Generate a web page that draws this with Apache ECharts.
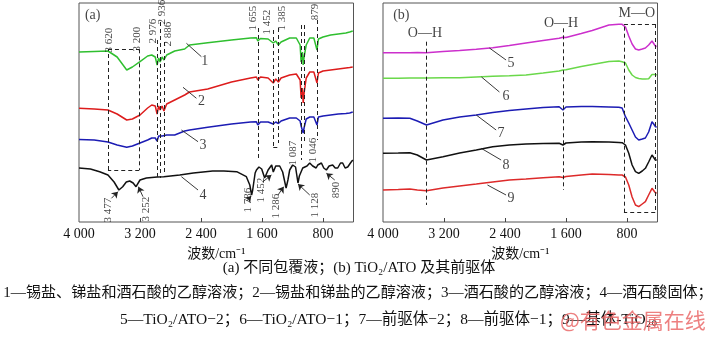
<!DOCTYPE html>
<html><head><meta charset="utf-8">
<script src="https://cdn.jsdelivr.net/npm/echarts@6/dist/echarts.min.js"></script>
<style>html,body{margin:0;padding:0;background:#fff}#c{width:716px;height:338px}</style>
</head><body><div id="c"></div>
<script>
// ---- data: panel (a) ----
const wnA = [4000,3800,3620,3500,3374,3300,3200,3100,3046,3000,2976,2955,2936,2910,2886,2850,2745,2614,2550,2312,2000,1750,1673,1655,1620,1520,1452,1420,1385,1350,1237,1150,1100,1087,1070,1060,1046,1020,974,920,879,860,800,700,600,500,450,410];
const curve1 = [170,170.5,171,165,152,155,160.3,166,167,165,157,164,160,165,162,167,171,173,177,179.3,182,184,184.3,181,183.5,183,179,181,177,180,184,184,177,160,170,157,166,177,184,184,172,183,185,187,188,189,190,191];
const curve2 = [113.7,113,112,108,102,103,107,114,117,116,108,116,112,116,111,118,122,127,130,133,140,144,145,142,145,144,139,143,140,144,147,148,142,124,134,119,130,144,150,150,139,149,151,152,153,154,154.5,155];
const curve3 = [82.5,82,80,77,74.7,76,79,82,84,84,81,86,84,86,85,87,87,91,92,94.7,98,100,100.3,97,100,100,98,100,98.5,101,104,104,101,96,98,89,95,103,105,105,97,105,106,107,108,108.5,109,110];
const wn4 = [4000,3850,3729,3620,3540,3477,3427,3380,3335,3290,3252,3200,3116,2976,2889,2679,2500,2247,2100,1932,1805,1760,1736,1722,1690,1673,1640,1604,1565,1520,1473,1452,1420,1408,1368,1329,1284,1260,1237,1198,1160,1128,1110,1087,1066,1046,1010,974,935,890,869,821,790,756,720,673,640,607,570,542,510,476,440,410];
const curve4 = [54,53,50.3,47,40,32,35.3,40,41,39,35.3,42,44,45,45.3,47,49,51,51,50.3,45.3,37,27,32,49,52,55,53,44,52,57,50,56,54,56,50,34,42,52,57,55,39,46,45,54,54,56,59,56,54,57,59,54,52,56,57,54,54,59,59,54,55,59,62];
// ---- data: panel (b) ----
const wnB = [4000,3800,3648,3550,3430,3213,2995,2777,2561,2343,2125,1900,1690,1640,1600,1400,1256,1037,907,864,820,777,733,689,646,600,559,516,472,450,428,410];
const curve5 = [169.3,169.3,169.3,169.5,169.3,170.5,171.5,172.8,174.3,176.5,179,181.5,183.7,184.8,184.5,188.5,191.5,197,197.7,197.7,195,186,178,173,172,173,174,177,181,179.5,176,175.5];
const curve6 = [143.7,143.8,144,144,144,144.2,144.3,145,145.7,146.3,147,149,151,152,152.2,155.5,157.5,160.5,161,160.3,159,152,147,144.5,143.5,143,143,143.2,147.5,149,147.5,147];
const curve7 = [103.7,104,103.7,101,97,102,105,107,109.5,111.5,113,114.5,115.3,112,115,115.5,115.5,115,114.7,114,105.3,99,92,85,82,83,84,90,100.3,98,95.3,95];
const curve8 = [68.7,69,69.3,67,62,65.3,69,72,75.3,77,78,78.5,78.7,77,79,80,80.3,80,79.5,79.3,77,68.7,57,50.3,48.7,51,53.7,60,67,65,62,62];
const curve9 = [32,32.5,33,32,31.3,34,36,38,40,42,43,44.2,45.3,44.5,45.5,47,48,47.5,47,47,45,37,25,17,15.3,18,20.3,27,33.7,32,29.3,29];
const tickValues = [800,1600,2400,3200,4000];

// ---- annotations (data units) ----
const dashA = [[[2976,182],[2976,44]],[[2936,200],[2936,44]],[[2886,180],[2886,50]],[[1655,194],[1655,62]],[[1452,192],[1452,75]],[[1452,75],[1385,75]],[[1385,194],[1385,79]],[[1087,197],[1087,62]],[[1046,197],[1046,79]],[[879,202],[879,82]],
  [[3620,172.7],[3210,172.7]],[[3210,172.7],[3210,52]],[[3210,52],[3620,52]],[[3620,52],[3620,172.7]]];
const dashB = [[[3430,180.3],[3430,17]],[[1640,193.7],[1640,32]],[[840,198],[430,198]],[[430,198],[430,9.3]],[[430,9.3],[840,9.3]],[[840,9.3],[840,198]]];
const leadA = [[[2591,178.7],[2395,165.3]],[[2636,134.7],[2460,123.7]],[[2657,92],[2439,80.3]],[[2657,45.3],[2439,32]]];
const leadB = [[[2604,174],[2386,162]],[[2708,145],[2473,130]],[[2777,107],[2516,92]],[[2712,73.7],[2451,62]],[[2630,37],[2386,27]]];
const arrowA = [[[3575,23.7],[3489,30.3]],[[3161,25.3],[3221,35.3]],[[1801,21],[1742,26]],[[1587,40.3],[1477,47]],[[1390,27],[1315,35.3]],[[974,27],[1128,38]],[[646,42],[755,48.7]]];
const peakLabelsA = [['3 620',3605,182],['3 200',3240,183],['2 976',3033,191],['2 936',2915,210],['2 886',2837,188],['1 655',1715,204],['1 452',1535,200],['1 385',1330,204],['879',909,210],['1 087',1193,69],['1 046',930,72],['3 477',3620,12],['3 252',3116,13],['1 736',1784,22],['1 452',1608,32],['1 286',1411,16],['1 128',909,17],['890',624,32]];
const textA = [['(a)',3820,207],['1',2351,160.3],['2',2395,120.3],['3',2374,77],['4',2374,27]];
const textB = [['(b)',3760,207],['O—H',3450,189],['O—H',1665,199],['M—O',672,209],['5',2320,158.7],['6',2386,125.3],['7',2451,88.7],['8',2386,57],['9',2320,23.7]];

const FONT = "'Liberation Serif','Noto Sans CJK SC',serif";
const zip = (xs, ys) => xs.map((x, i) => [x, ys[i]]);
const fmt = v => v >= 1000 ? Math.floor(v/1000) + ' ' + String(v % 1000).padStart(3, '0') : String(v);

function xAxisFor(i) {
  return {
    type: 'value', gridIndex: i, min: 400, max: 4000, inverse: true,
    axisLine: {show: false}, splitLine: {show: false},
    axisTick: {show: true, inside: true, length: 4, customValues: [800,1600,2400,3200], lineStyle: {color: '#444'}},
    axisLabel: {customValues: tickValues, formatter: fmt, fontFamily: FONT, fontSize: 14, color: '#111', margin: 5},
    name: '波数/cm⁻¹', nameLocation: 'middle', nameGap: 25,
    nameTextStyle: {fontFamily: FONT, fontSize: 14, color: '#111'}
  };
}
function curve(i, data, color) {
  return {type: 'line', xAxisIndex: i, yAxisIndex: i, data, showSymbol: false, symbol: 'none',
    lineStyle: {color, width: 1.5}, itemStyle: {color}, silent: true, z: 3};
}
function segs(list) { return list.map(s => [{coord: s[0]}, {coord: s[1]}]); }
function helper(i, list, style, symbols) {
  return {type: 'scatter', xAxisIndex: i, yAxisIndex: i, data: [], silent: true,
    markLine: {silent: true, symbol: symbols, symbolSize: 6, label: {show: false}, animation: false,
      lineStyle: style, emphasis: {disabled: true}, data: segs(list)}};
}
function labels(i, list, rotate, size) {
  return {type: 'scatter', xAxisIndex: i, yAxisIndex: i, symbolSize: 1, silent: true, z: 5,
    itemStyle: {color: 'rgba(0,0,0,0)'},
    label: {show: true, position: 'inside', rotate, formatter: p => p.data.name,
      fontFamily: FONT, fontSize: size, color: '#111', align: 'center', verticalAlign: 'middle'},
    labelLayout: {hideOverlap: false},
    data: list.map(t => ({name: t[0], value: [t[1], t[2]]}))};
}

const chart = echarts.init(document.getElementById('c'), null, {renderer: 'canvas'});
chart.setOption({
  animation: false,
  backgroundColor: '#fff',
  grid: [
    {left: 79, right: 716 - 353.5, top: 3, bottom: 116, show: true, borderColor: '#555', borderWidth: 1},
    {left: 383, right: 716 - 657.5, top: 3, bottom: 116, show: true, borderColor: '#555', borderWidth: 1}
  ],
  xAxis: [xAxisFor(0), xAxisFor(1)],
  yAxis: [{type: 'value', gridIndex: 0, min: 0, max: 219, show: false},
          {type: 'value', gridIndex: 1, min: 0, max: 219, show: false}],
  series: [
    curve(0, zip(wnA, curve1), '#2fbf2f'),
    curve(0, zip(wnA, curve2), '#dd1c1c'),
    curve(0, zip(wnA, curve3), '#1c1cb4'),
    curve(0, zip(wn4, curve4), '#111111'),
    curve(1, zip(wnB, curve5), '#cc2fcc'),
    curve(1, zip(wnB, curve6), '#6ad84a'),
    curve(1, zip(wnB, curve7), '#1c1cb4'),
    curve(1, zip(wnB, curve8), '#111111'),
    curve(1, zip(wnB, curve9), '#dd2a2a'),
    helper(0, dashA, {type: [4, 3], color: '#222', width: 1}, ['none', 'none']),
    helper(1, dashB, {type: [4, 3], color: '#222', width: 1}, ['none', 'none']),
    helper(0, leadA, {type: 'solid', color: '#222', width: 0.9}, ['none', 'none']),
    helper(1, leadB, {type: 'solid', color: '#222', width: 0.9}, ['none', 'none']),
    helper(0, arrowA, {type: 'solid', color: '#222', width: 0.9}, ['none', 'arrow']),
    labels(0, peakLabelsA, 90, 11),
    labels(0, textA, 0, 14),
    labels(1, textB, 0, 14)
  ],
  graphic: [
    {type: 'text', x: 359, y: 268, style: {text: '(a) 不同包覆液；(b) TiO₂/ATO 及其前驱体', fontFamily: FONT, fontSize: 15, fill: '#111', align: 'center', verticalAlign: 'middle'}},
    {type: 'text', x: 358, y: 293, style: {text: '1—锡盐、锑盐和酒石酸的乙醇溶液；2—锡盐和锑盐的乙醇溶液；3—酒石酸的乙醇溶液；4—酒石酸固体；', fontFamily: FONT, fontSize: 15.1, fill: '#111', align: 'center', verticalAlign: 'middle'}},
    {type: 'text', x: 120, y: 320, style: {text: '5—TiO₂/ATO−2；6—TiO₂/ATO−1；7—前驱体−2；8—前驱体−1；9—基体-TiO₂。', fontFamily: FONT, fontSize: 15.5, fill: '#111', align: 'left', verticalAlign: 'middle'}},
    {type: 'text', x: 560, y: 320, z: 10, style: {text: '@有色金属在线', fontFamily: "'Noto Sans CJK SC',sans-serif", fontSize: 21, fill: 'rgba(232,96,96,0.8)', align: 'left', verticalAlign: 'middle'}}
  ]
});
</script>
</body></html>
